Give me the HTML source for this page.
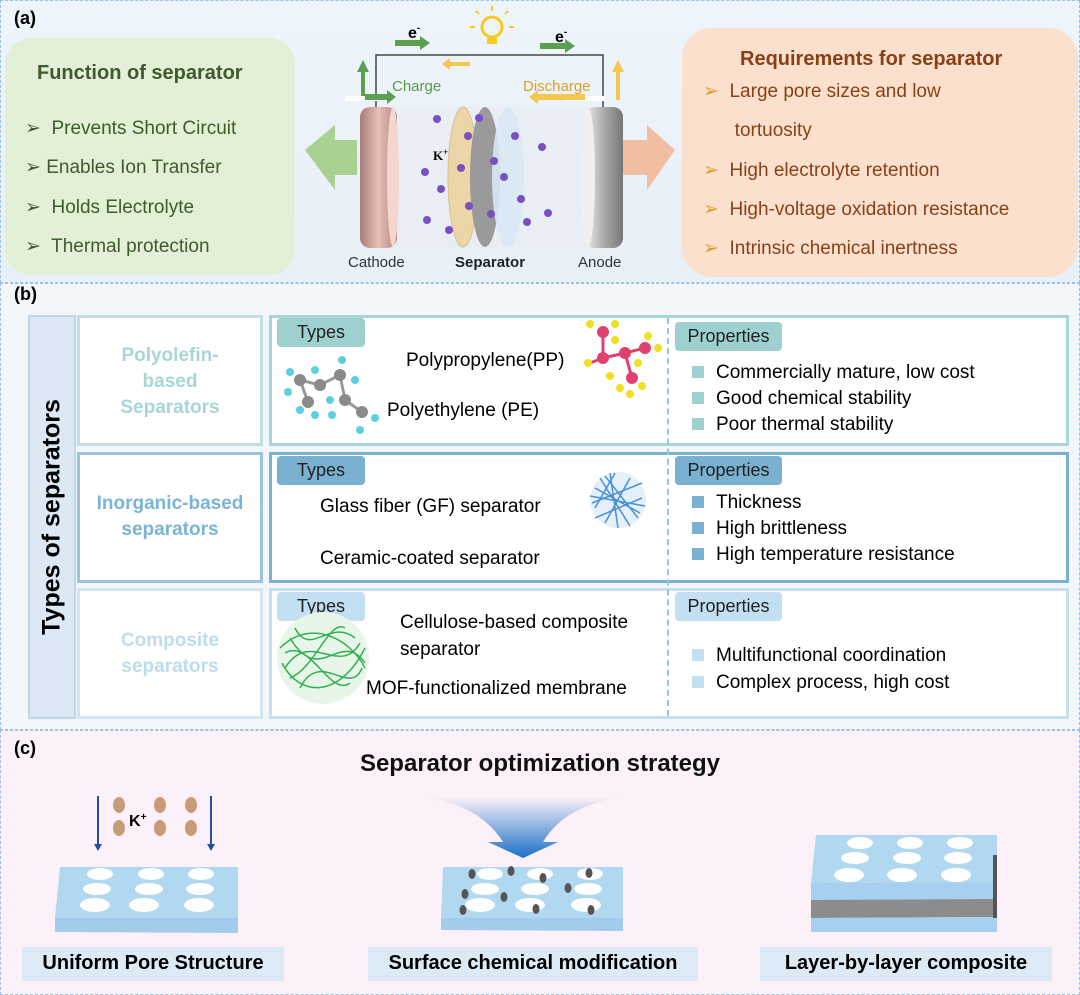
<!DOCTYPE html>
<html><head><meta charset="utf-8"><style>
*{margin:0;padding:0;box-sizing:border-box}
body{width:1080px;height:995px;position:relative;font-family:"Liberation Sans",Arial,sans-serif;background:#fff;overflow:hidden}
.a{position:absolute}
.t{position:absolute;white-space:nowrap}
.tag{position:absolute;border-radius:4px;font-size:18px;color:#222;text-align:center;line-height:29px}
.sq{display:inline-block;width:12px;height:12px;margin-right:12px;vertical-align:0px}
</style></head><body>
<div class="a" style="left:0;top:0;width:1080px;height:283px;background:linear-gradient(#eef4fb,#e8f0f8);border:1px dashed #9cc0e0"></div>
<div class="a" style="left:0;top:283px;width:1080px;height:447px;background:#f3f7fc;border:1px dashed #9cc0e0"></div>
<div class="a" style="left:0;top:730px;width:1080px;height:265px;background:#fcf1f9;border:1px dashed #9cc0e0"></div>

<div class="t" style="left:14px;top:8px;font-size:18px;font-weight:bold">(a)</div>
<div class="t" style="left:14px;top:284px;font-size:18px;font-weight:bold">(b)</div>
<div class="t" style="left:14px;top:738px;font-size:18px;font-weight:bold">(c)</div>

<div class="a" style="left:5px;top:38px;width:290px;height:237px;background:#e3efd7;border-radius:26px"></div>
<div class="t" style="left:37px;top:62px;font-size:20px;font-weight:bold;color:#3d5b2c">Function of separator</div>
<div class="t" style="left:25px;top:109px;font-size:19px;color:#3d5b2c;line-height:39.3px">➢&nbsp; Prevents Short Circuit<br>➢ Enables Ion Transfer<br>➢&nbsp; Holds Electrolyte<br>➢&nbsp; Thermal protection</div>
<div class="a" style="left:682px;top:28px;width:396px;height:249px;background:#fbe1cd;border-radius:30px"></div>
<div class="t" style="left:740px;top:48px;font-size:20px;font-weight:bold;color:#8a3f14">Requirements for separator</div>
<div class="t" style="left:703px;top:72px;font-size:19px;color:#8a3f14;line-height:39.3px"><span style="color:#d9a020">➢</span>&nbsp; Large pore sizes and low<br>&nbsp;&nbsp;&nbsp;&nbsp;&nbsp;&nbsp;tortuosity<br><span style="color:#d9a020">➢</span>&nbsp; High electrolyte retention<br><span style="color:#d9a020">➢</span>&nbsp; High-voltage oxidation resistance<br><span style="color:#d9a020">➢</span>&nbsp; Intrinsic chemical inertness</div>

<svg class="a" style="left:295px;top:0" width="390" height="283">
<defs>
<linearGradient id="cg" x1="0" x2="1"><stop offset="0" stop-color="#a87c78"/><stop offset=".5" stop-color="#e8c0b8"/><stop offset="1" stop-color="#b08580"/></linearGradient>
<linearGradient id="ag" x1="0" x2="1"><stop offset="0" stop-color="#eee"/><stop offset=".5" stop-color="#aaa"/><stop offset="1" stop-color="#777"/></linearGradient>
</defs>
<polygon points="10,150 40,125 40,140 62,140 62,175 40,175 40,190" fill="#98c878" opacity=".8"/>
<polygon points="380,150 352,125 352,140 320,140 320,175 352,175 352,190" fill="#f4b08c" opacity=".8"/>
<polyline points="81,108 81,55 308,55 308,108" fill="none" stroke="#444" stroke-width="1.5"/>
<rect x="82" y="107" width="220" height="141" fill="#e8eef3" opacity=".8"/>
<rect x="65" y="107" width="37" height="141" rx="10" fill="url(#cg)"/>
<ellipse cx="98" cy="177" rx="6" ry="70" fill="#f5d6cf"/>
<ellipse cx="168" cy="177" rx="15" ry="70" fill="#ecd6a8" stroke="#d8c090"/>
<ellipse cx="190" cy="177" rx="15" ry="70" fill="#9a9a9a"/>
<ellipse cx="213" cy="177" rx="16" ry="70" fill="#d8e8f4" opacity=".9"/>
<rect x="290" y="107" width="38" height="141" rx="10" fill="url(#ag)"/>
<ellipse cx="293" cy="177" rx="7" ry="70" fill="#f0f0f0"/>
<g fill="#7a4fc0">
<circle cx="142" cy="119" r="4"/><circle cx="184" cy="118" r="4"/><circle cx="173" cy="136" r="4"/><circle cx="220" cy="136" r="4"/><circle cx="247" cy="147" r="4"/><circle cx="199" cy="161" r="4"/><circle cx="166" cy="168" r="4"/><circle cx="130" cy="172" r="4"/><circle cx="209" cy="177" r="4"/><circle cx="146" cy="189" r="4"/><circle cx="226" cy="199" r="4"/><circle cx="174" cy="206" r="4"/><circle cx="253" cy="213" r="4"/><circle cx="196" cy="214" r="4"/><circle cx="232" cy="222" r="4"/><circle cx="132" cy="220" r="4"/><circle cx="154" cy="230" r="4"/>
</g>
<text x="138" y="160" font-family="Liberation Serif" font-weight="bold" font-size="13">K<tspan font-size="9" dy="-5">+</tspan></text>
<polygon points="70,100 66,100 66,72 62,72 68,60 74,72 70,72" fill="#5aa050"/>
<polygon points="325,100 321,100 321,72 317,72 323,60 329,72 325,72" fill="#f4c850"/>
<polygon points="100,40 125,40 125,36 135,43 125,50 125,46 100,46" fill="#5aa050"/>
<polygon points="245,43 270,43 270,39 280,46 270,53 270,49 245,49" fill="#5aa050"/>
<polygon points="175,62 155,62 155,58 147,64 155,70 155,66 175,66" fill="#f4c850"/>
<rect x="50" y="96" width="40" height="5" fill="#fff"/>
<polygon points="70,94 92,94 92,90 101,97 92,104 92,100 70,100" fill="#5aa050"/>
<rect x="270" y="96" width="40" height="5" fill="#fff"/>
<polygon points="290,94 243,94 243,90 234,97 243,104 243,100 290,100" fill="#f4c850"/>
<text x="97" y="91" font-size="15" fill="#5a9a45">Charge</text>
<text x="228" y="91" font-size="15" fill="#d8a030">Discharge</text>
<text x="113" y="38" font-size="16" font-weight="bold">e<tspan font-size="10" dy="-7">-</tspan></text>
<text x="260" y="42" font-size="16" font-weight="bold">e<tspan font-size="10" dy="-7">-</tspan></text>
<circle cx="197" cy="27" r="10" fill="none" stroke="#f4cc20" stroke-width="3"/>
<rect x="192" y="38" width="10" height="6" fill="#f4cc20"/>
<g stroke="#f4cc20" stroke-width="2"><line x1="197" y1="6" x2="197" y2="11"/><line x1="180" y1="27" x2="175" y2="27"/><line x1="214" y1="27" x2="219" y2="27"/><line x1="184" y1="14" x2="181" y2="11"/><line x1="210" y1="14" x2="213" y2="11"/></g>
<text x="53" y="267" font-size="15" fill="#333">Cathode</text>
<text x="160" y="267" font-size="15" font-weight="bold" fill="#222">Separator</text>
<text x="283" y="267" font-size="15" fill="#333">Anode</text>
</svg>

<div class="a" style="left:28px;top:315px;width:48px;height:404px;background:#dce9f5;border:2px solid #bcd6ea"></div>
<div class="t" style="left:52px;top:517px;font-size:25px;font-weight:bold;transform:translate(-50%,-50%) rotate(-90deg)">Types of separators</div>

<div class="a" style="left:77px;top:315px;width:186px;height:131px;border:3px solid #bfe0e0;background:#fff"></div>
<div class="a" style="left:269px;top:315px;width:800px;height:131px;border:3px solid #a8d5d5;background:#fff"></div>
<div class="a" style="left:77px;top:452px;width:186px;height:131px;border:3px solid #9cc4dc;background:#fff"></div>
<div class="a" style="left:269px;top:452px;width:800px;height:131px;border:3px solid #7ab0d0;background:#fff"></div>
<div class="a" style="left:77px;top:588px;width:186px;height:131px;border:3px solid #d2e6f2;background:#fff"></div>
<div class="a" style="left:269px;top:588px;width:800px;height:131px;border:3px solid #c6e0ee;background:#fff"></div>
<div class="a" style="left:667px;top:318px;height:398px;border-left:2px dashed #9cc4dc"></div>

<div class="t" style="left:77px;top:343px;width:186px;text-align:center;font-size:19px;font-weight:bold;color:#a6d6d6;line-height:26px;white-space:normal">Polyolefin-<br>based<br>Separators</div>
<div class="t" style="left:77px;top:491px;width:186px;text-align:center;font-size:19px;font-weight:bold;color:#7ab4d8;line-height:26px;white-space:normal">Inorganic-based<br>separators</div>
<div class="t" style="left:77px;top:628px;width:186px;text-align:center;font-size:19px;font-weight:bold;color:#bcdcf0;line-height:26px;white-space:normal">Composite<br>separators</div>

<div class="tag" style="left:277px;top:318px;width:88px;background:#9fd0d0">Types</div>
<div class="tag" style="left:675px;top:322px;width:107px;background:#9fd0d0">Properties</div>
<div class="tag" style="left:277px;top:456px;width:88px;background:#7ab0d0">Types</div>
<div class="tag" style="left:675px;top:456px;width:107px;background:#7ab0d0">Properties</div>
<div class="tag" style="left:277px;top:592px;width:88px;background:#c2e0f2">Types</div>
<div class="tag" style="left:675px;top:592px;width:107px;background:#c2e0f2">Properties</div>

<div class="t" style="left:406px;top:350px;font-size:19px">Polypropylene(PP)</div>
<div class="t" style="left:387px;top:400px;font-size:19px">Polyethylene (PE)</div>
<div class="t" style="left:320px;top:496px;font-size:19px">Glass fiber (GF) separator</div>
<div class="t" style="left:320px;top:548px;font-size:19px">Ceramic-coated separator</div>
<div class="t" style="left:400px;top:609px;font-size:19px;line-height:27px">Cellulose-based composite<br>separator</div>
<div class="t" style="left:366px;top:678px;font-size:19px">MOF-functionalized membrane</div>

<div class="t" style="left:692px;top:360px;font-size:19px;line-height:26px"><span class="sq" style="background:#9fd0d0"></span>Commercially mature, low cost<br><span class="sq" style="background:#9fd0d0"></span>Good chemical stability<br><span class="sq" style="background:#9fd0d0"></span>Poor thermal stability</div>
<div class="t" style="left:692px;top:490px;font-size:19px;line-height:26px"><span class="sq" style="background:#7ab0d0"></span>Thickness<br><span class="sq" style="background:#7ab0d0"></span>High brittleness<br><span class="sq" style="background:#7ab0d0"></span>High temperature resistance</div>
<div class="t" style="left:692px;top:642px;font-size:19px;line-height:27px"><span class="sq" style="background:#c2e0f2"></span>Multifunctional coordination<br><span class="sq" style="background:#c2e0f2"></span>Complex process, high cost</div>

<svg class="a" style="left:270px;top:318px" width="400" height="400">
<g transform="translate(0,12)">
<g stroke="#999" stroke-width="3"><line x1="30" y1="50" x2="50" y2="55"/><line x1="50" y1="55" x2="70" y2="45"/><line x1="70" y1="45" x2="75" y2="70"/><line x1="75" y1="70" x2="92" y2="82"/><line x1="30" y1="50" x2="38" y2="72"/></g>
<g fill="#8a8a8a"><circle cx="30" cy="50" r="6"/><circle cx="50" cy="55" r="6"/><circle cx="70" cy="45" r="6"/><circle cx="75" cy="70" r="6"/><circle cx="92" cy="82" r="6"/><circle cx="38" cy="72" r="6"/></g>
<g fill="#5cd0e0"><circle cx="20" cy="42" r="4"/><circle cx="18" cy="62" r="4"/><circle cx="45" cy="40" r="4"/><circle cx="60" cy="70" r="4"/><circle cx="72" cy="30" r="4"/><circle cx="85" cy="50" r="4"/><circle cx="62" cy="85" r="4"/><circle cx="105" cy="88" r="4"/><circle cx="90" cy="100" r="4"/><circle cx="45" cy="85" r="4"/><circle cx="30" cy="80" r="4"/></g>
</g>
<g stroke="#e04070" stroke-width="3"><line x1="333" y1="10" x2="333" y2="40"/><line x1="333" y1="40" x2="355" y2="35"/><line x1="355" y1="35" x2="375" y2="30"/><line x1="355" y1="35" x2="362" y2="60"/><line x1="333" y1="40" x2="320" y2="45"/></g>
<g fill="#e04070"><circle cx="333" cy="14" r="6"/><circle cx="333" cy="40" r="6"/><circle cx="355" cy="35" r="6"/><circle cx="375" cy="30" r="6"/><circle cx="362" cy="60" r="6"/></g>
<g fill="#f0e020"><circle cx="320" cy="6" r="4"/><circle cx="345" cy="6" r="4"/><circle cx="318" cy="45" r="4"/><circle cx="340" cy="58" r="4"/><circle cx="345" cy="22" r="4"/><circle cx="368" cy="45" r="4"/><circle cx="388" cy="30" r="4"/><circle cx="378" cy="18" r="4"/><circle cx="350" cy="70" r="4"/><circle cx="372" cy="68" r="4"/><circle cx="360" cy="76" r="4"/></g>
<circle cx="348" cy="182" r="28" fill="#e4f0fa"/>
<g stroke="#4a90d8" stroke-width="1.5" fill="none"><path d="M325,170 L370,195 M330,160 L360,208 M322,185 L372,165 M340,155 L348,210 M325,200 L372,180 M335,158 L368,200 M345,155 L325,190 M360,160 L335,205 M320,178 L375,188"/></g>
<circle cx="53" cy="340" r="46" fill="#e8f6ea"/>
<g stroke="#30b050" stroke-width="1.5" fill="none"><path d="M10,330 C40,300 80,320 95,350 M15,350 C40,310 70,360 90,325 M20,320 C50,370 70,310 95,345 M12,345 C30,380 70,380 95,330 M25,310 C40,340 60,300 85,320 M15,335 C40,320 60,380 80,365 M30,370 C50,330 80,380 92,350 M20,360 C45,350 60,300 75,310"/></g>
</svg>

<div class="t" style="left:0;top:750px;width:1080px;text-align:center;font-size:24px;font-weight:bold;color:#111">Separator optimization strategy</div>
<svg class="a" style="left:0;top:730px" width="1080" height="265">
<defs>
<linearGradient id="fun" x1="0" y1="0" x2="0" y2="1"><stop offset="0" stop-color="#fcf1f9"/><stop offset="1" stop-color="#1a70c8"/></linearGradient>
</defs>
<line x1="98" y1="66" x2="98" y2="116" stroke="#2050a0" stroke-width="2"/><polygon points="94,114 102,114 98,121" fill="#2050a0"/>
<line x1="211" y1="66" x2="211" y2="116" stroke="#2050a0" stroke-width="2"/><polygon points="207,114 215,114 211,121" fill="#2050a0"/>
<g fill="#c89a78"><ellipse cx="119" cy="75" rx="6" ry="8"/><ellipse cx="160" cy="75" rx="6" ry="8"/><ellipse cx="191" cy="75" rx="6" ry="8"/><ellipse cx="119" cy="98" rx="6" ry="8"/><ellipse cx="160" cy="98" rx="6" ry="8"/><ellipse cx="191" cy="98" rx="6" ry="8"/></g>
<text x="129" y="96" font-size="16" font-weight="bold">K<tspan font-size="10" dy="-6">+</tspan></text>
<polygon points="60,137 238,137 238,188 55,188" fill="#b0d8f0"/><polygon points="55,188 238,188 238,203 55,202" fill="#a2cbec"/>
<g fill="#fff"><ellipse cx="100" cy="144" rx="13" ry="6"/><ellipse cx="151" cy="144" rx="13" ry="6"/><ellipse cx="201" cy="144" rx="13" ry="6"/><ellipse cx="97" cy="159" rx="14" ry="6"/><ellipse cx="149" cy="159" rx="14" ry="6"/><ellipse cx="200" cy="159" rx="14" ry="6"/><ellipse cx="95" cy="175" rx="15" ry="7"/><ellipse cx="144" cy="175" rx="15" ry="7"/><ellipse cx="199" cy="175" rx="15" ry="7"/></g>
<path d="M423,67 Q480,75 503,112 L488,112 L523,128 L558,112 L543,112 Q565,75 623,67 Z" fill="url(#fun)"/>
<polygon points="443,137 623,137 623,188 441,188" fill="#b0d8f0"/><polygon points="441,188 623,188 623,201 441,200" fill="#a2cbec"/>
<g fill="#fff"><ellipse cx="490" cy="144" rx="13" ry="6"/><ellipse cx="540" cy="144" rx="13" ry="6"/><ellipse cx="590" cy="144" rx="13" ry="6"/><ellipse cx="485" cy="159" rx="14" ry="6"/><ellipse cx="535" cy="159" rx="14" ry="6"/><ellipse cx="588" cy="159" rx="14" ry="6"/><ellipse cx="480" cy="175" rx="15" ry="7"/><ellipse cx="530" cy="175" rx="15" ry="7"/><ellipse cx="586" cy="175" rx="15" ry="7"/></g>
<g fill="#555"><ellipse cx="472" cy="144" rx="3.5" ry="5"/><ellipse cx="511" cy="141" rx="3.5" ry="5"/><ellipse cx="543" cy="148" rx="3.5" ry="5"/><ellipse cx="589" cy="143" rx="3.5" ry="5"/><ellipse cx="465" cy="164" rx="3.5" ry="5"/><ellipse cx="504" cy="167" rx="3.5" ry="5"/><ellipse cx="568" cy="158" rx="3.5" ry="5"/><ellipse cx="463" cy="180" rx="3.5" ry="5"/><ellipse cx="536" cy="179" rx="3.5" ry="5"/><ellipse cx="591" cy="180" rx="3.5" ry="5"/></g>
<polygon points="816,105 997,105 997,152 811,153" fill="#b0d8f0"/>
<polygon points="811,153 997,152 997,170 811,170" fill="#a6cff0"/>
<polygon points="811,170 997,169 997,187 811,188" fill="#8c8c8c"/>
<polygon points="811,188 997,187 997,202 811,202" fill="#a6cff0"/>
<rect x="993" y="125" width="4" height="63" fill="#555"/>
<g fill="#fff"><ellipse cx="860" cy="113" rx="13" ry="6"/><ellipse cx="910" cy="113" rx="13" ry="6"/><ellipse cx="960" cy="113" rx="13" ry="6"/><ellipse cx="855" cy="128" rx="14" ry="6"/><ellipse cx="907" cy="128" rx="14" ry="6"/><ellipse cx="958" cy="128" rx="14" ry="6"/><ellipse cx="849" cy="145" rx="15" ry="7"/><ellipse cx="902" cy="145" rx="15" ry="7"/><ellipse cx="956" cy="145" rx="15" ry="7"/></g>
</svg>
<div class="a" style="left:22px;top:947px;width:262px;height:34px;background:#dceaf6"></div>
<div class="a" style="left:368px;top:947px;width:330px;height:34px;background:#dceaf6"></div>
<div class="a" style="left:760px;top:947px;width:292px;height:34px;background:#dceaf6"></div>
<div class="t" style="left:22px;top:952px;width:262px;text-align:center;font-size:20px;font-weight:bold">Uniform Pore Structure</div>
<div class="t" style="left:368px;top:952px;width:330px;text-align:center;font-size:20px;font-weight:bold">Surface chemical modification</div>
<div class="t" style="left:760px;top:952px;width:292px;text-align:center;font-size:20px;font-weight:bold">Layer-by-layer composite</div>
</body></html>
